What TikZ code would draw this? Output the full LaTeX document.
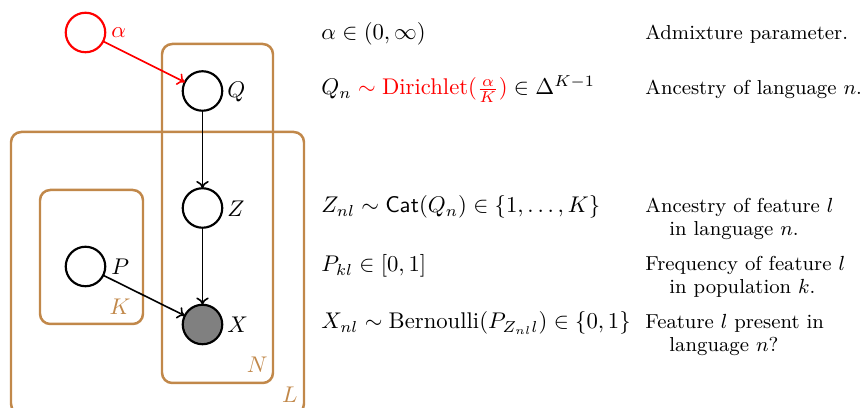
\documentclass[tikz,border=0pt]{standalone}
\usepackage{amsmath,amssymb}
\usetikzlibrary{arrows.meta}
\definecolor{platebrown}{RGB}{193,136,74}
\definecolor{nodegray}{RGB}{128,128,128}
\begin{document}
\begin{tikzpicture}[x=0.4405pt,y=-0.4405pt,
  latent/.style={circle,draw,line width=0.95pt,minimum size=17.4pt,inner sep=0pt,outer sep=0pt},
  obs/.style={latent,fill=nodegray},
  plate/.style={draw=platebrown,line width=1.1pt,rounded corners=4.5pt},
  platelabel/.style={text=platebrown,anchor=base east,inner sep=0pt},
  nlabel/.style={anchor=west,inner sep=0pt},
  edge/.style={-{To[length=3.2pt,width=5.5pt]},line width=0.7pt},
  eq/.style={anchor=base west,inner sep=0pt},
  desc/.style={anchor=base west,inner sep=0pt,font=\fontsize{8.9}{11}\selectfont}]
\useasboundingbox (0,0) rectangle (863,408);
% plates
\draw[plate] (162,44) rectangle (273,383);
\draw[plate] (11,132) rectangle (304,414);
\draw[plate] (40,190) rectangle (143,324);
\node[platelabel] (labK) at (131,315) {$K$};
\node[platelabel] (labN) at (268,373) {$N$};
\node[platelabel] (labL) at (298,403) {$L$};
% nodes
\node[latent,draw=red] (alpha) at (85.5,32.5) {};
\node[latent] (Q) at (202.5,91) {};
\node[latent] (Z) at (202.5,208) {};
\node[latent] (P) at (85.5,266.5) {};
\node[obs] (X) at (202.5,324.5) {};
\node[nlabel,text=red] (alphalab) at (111,33) {$\alpha$};
\node[nlabel] (Qlab) at (227,92) {$Q$};
\node[nlabel] (Zlab) at (227,209) {$Z$};
\node[nlabel] (Plab) at (111,267) {$P$};
\node[nlabel] (Xlab) at (227,325) {$X$};
% edges
\draw[edge,red] (alpha) -- (Q);
\draw[edge] (Q) -- (Z);
\draw[edge] (Z) -- (X);
\draw[edge] (P) -- (X);
% equations
\node[eq] (eqalpha) at (321,40) {$\alpha \in (0,\infty)$};
\node[eq] (eqQ) at (321,95) {$Q_n \mathrel{\textcolor{red}{\sim}} \textcolor{red}{\text{Dirichlet}(\frac{\alpha}{K})} \in \Delta^{K-1}$};
\node[eq] (eqZ) at (321,213) {$Z_{nl} \sim \mathsf{Cat}(Q_n) \in \{1,\ldots,K\}$};
\node[eq] (eqP) at (321,272) {$P_{kl} \in [0,1]$};
\node[eq] (eqX) at (321,329) {$X_{nl} \sim \text{Bernoulli}(P_{Z_{nl}l}) \in \{0,1\}$};
% descriptions
\node[desc] (dalpha) at (645,40) {Admixture parameter.};
\node[desc] (dQ) at (645,95) {Ancestry of language $n$.};
\node[desc] (dZa) at (645,213) {Ancestry of feature $l$};
\node[desc] (dZb) at (669,236) {in language $n$.};
\node[desc] (dPa) at (645,271) {Frequency of feature $l$};
\node[desc] (dPb) at (669,294) {in population $k$.};
\node[desc] (dXa) at (645,329) {Feature $l$ present in};
\node[desc] (dXb) at (669,352) {language $n$?};
\end{tikzpicture}
\end{document}
